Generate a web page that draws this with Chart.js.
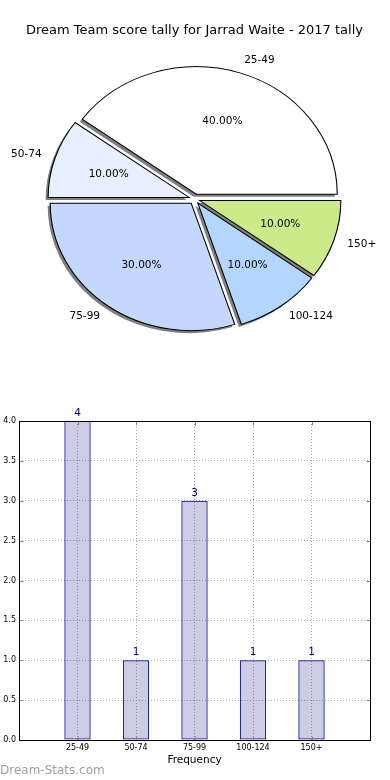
<!DOCTYPE html>
<html>
<head>
<meta charset="utf-8">
<script src="https://cdn.jsdelivr.net/npm/chart.js@4"></script>
<style>
  body { margin: 0; background: #fff; width: 390px; height: 780px; position: relative; overflow: hidden; font-family: "DejaVu Sans", sans-serif; }
  #title { position: absolute; left: 0; top: 22px; width: 389px; text-align: center; font-size: 13px; line-height: 15px; color: #000; }
  #pie { position: absolute; left: 0; top: 0; }
  #bars { position: absolute; left: 0; top: 400px; }
  #mark { position: absolute; left: 0; top: 763px; font-size: 12px; line-height: 14px; color: #a0a0a0; }
</style>
</head>
<body>
<canvas id="pie" width="390" height="398"></canvas>
<canvas id="bars" width="390" height="380"></canvas>
<div id="title">Dream Team score tally for Jarrad Waite - 2017 tally</div>
<div id="mark">Dream-Stats.com</div>
<script>
const categories = ['25-49', '50-74', '75-99', '100-124', '150+'];
const counts = [4, 1, 3, 1, 1];
const sliceColors = ['#ffffff', '#e8f0ff', '#c4d8ff', '#b3d6ff', '#ccea8a'];
const yTicks = [0, 0.5, 1, 1.5, 2, 2.5, 3, 3.5, 4];

const FONT = '"DejaVu Sans"';
const SX = 141 / 127.5;   // pie is drawn as an ellipse, like the original
const EXPLODE = 5.1;

function pieCenter(chart) {
    const a = chart.chartArea;
    return [(a.left + a.right) / 2, (a.top + a.bottom) / 2];
}

// explode, shadow, ellipse stretch and labels for the pie
const pieLook = {
    id: 'pieLook',
    afterDatasetsUpdate(chart) {
        const [cx, cy] = pieCenter(chart);
        chart.getDatasetMeta(0).data.forEach(arc => {
            const mid = (arc.startAngle + arc.endAngle) / 2;
            arc.x = cx + Math.cos(mid) * EXPLODE;
            arc.y = cy + Math.sin(mid) * EXPLODE;
        });
    },
    beforeDatasetsDraw(chart) {
        const ctx = chart.ctx;
        const [cx, cy] = pieCenter(chart);
        ctx.save();
        ctx.translate(cx, cy);
        ctx.scale(SX, 1);
        ctx.translate(-cx, -cy);

        ctx.save();
        ctx.translate(-2.5 / SX, 2.5);
        ctx.fillStyle = 'rgba(0,0,0,0.5)';
        chart.getDatasetMeta(0).data.forEach(arc => {
            ctx.beginPath();
            ctx.moveTo(arc.x, arc.y);
            ctx.arc(arc.x, arc.y, arc.outerRadius, arc.startAngle, arc.endAngle);
            ctx.closePath();
            ctx.fill();
        });
        ctx.restore();
    },
    afterDatasetsDraw(chart) {
        const ctx = chart.ctx;
        ctx.restore();

        const [cx, cy] = pieCenter(chart);
        const values = chart.data.datasets[0].data;
        const total = values.reduce((s, v) => s + v, 0);
        ctx.save();
        ctx.font = '10.5px ' + FONT;
        ctx.fillStyle = '#000';
        ctx.textBaseline = 'middle';
        chart.getDatasetMeta(0).data.forEach((arc, i) => {
            const mid = (arc.startAngle + arc.endAngle) / 2;
            const r = arc.outerRadius;
            const px = cx + (arc.x - cx) * SX;
            const py = arc.y;
            const lx = px + Math.cos(mid) * r * 1.1 * SX;
            const ly = py + Math.sin(mid) * r * 1.1;
            ctx.textAlign = lx > cx ? 'left' : 'right';
            ctx.fillText(chart.data.labels[i], lx, ly);
            ctx.textAlign = 'center';
            ctx.fillText((values[i] / total * 100).toFixed(2) + '%',
                px + Math.cos(mid) * r * 0.6 * SX, py + Math.sin(mid) * r * 0.6);
        });
        ctx.restore();
    }
};

new Chart(document.getElementById('pie'), {
    type: 'pie',
    data: {
        labels: categories.slice().reverse(),
        datasets: [{
            data: counts.slice().reverse(),
            backgroundColor: sliceColors.slice().reverse(),
            borderColor: '#000',
            borderWidth: 1,
            borderJoinStyle: 'miter',
            clip: false
        }]
    },
    options: {
        responsive: false,
        animation: false,
        events: [],
        rotation: 90,
        radius: 127.5,
        layout: { padding: { right: 1 } },
        plugins: { legend: { display: false }, tooltip: { enabled: false } }
    },
    plugins: [pieLook]
});

// frame, inner ticks and value labels for the bar chart
const barLook = {
    id: 'barLook',
    afterDatasetsDraw(chart) {
        const ctx = chart.ctx;
        const a = chart.chartArea;
        const xs = chart.scales.x, ys = chart.scales.y;
        const l = Math.round(a.left) + 0.5, r = Math.round(a.right) + 0.5;
        const t = Math.round(a.top) + 0.5, b = Math.round(a.bottom) + 0.5;
        ctx.save();
        ctx.strokeStyle = '#888';
        ctx.lineWidth = 1;
        ctx.beginPath();
        xs.ticks.forEach(tk => {
            const x = Math.round(xs.getPixelForValue(tk.value)) + 0.5;
            ctx.moveTo(x, b); ctx.lineTo(x, b - 4);
            ctx.moveTo(x, t); ctx.lineTo(x, t + 4);
        });
        ys.ticks.forEach(tk => {
            const y = Math.round(ys.getPixelForValue(tk.value)) + 0.5;
            ctx.moveTo(l, y); ctx.lineTo(l + 4, y);
            ctx.moveTo(r, y); ctx.lineTo(r - 4, y);
        });
        ctx.stroke();

        ctx.strokeStyle = '#000';
        ctx.strokeRect(l, t, r - l, b - t);

        ctx.fillStyle = '#000080';
        ctx.font = '10.5px ' + FONT;
        ctx.textAlign = 'center';
        ctx.textBaseline = 'alphabetic';
        chart.getDatasetMeta(0).data.forEach((bar, i) => {
            ctx.fillText(String(counts[i]), bar.x, bar.y - 5);
        });
        ctx.restore();
    }
};

const tickFont = { family: FONT, size: 8 };

new Chart(document.getElementById('bars'), {
    type: 'bar',
    data: {
        datasets: [{
            data: categories.map((c, i) => ({ x: i, y: counts[i] })),
            backgroundColor: 'rgba(0,0,128,0.2)',
            borderColor: '#000080',
            borderWidth: 1,
            borderSkipped: false,
            barPercentage: 0.45,
            categoryPercentage: 1
        }]
    },
    options: {
        responsive: false,
        animation: false,
        events: [],
        layout: { padding: { top: 21, right: 20, bottom: 13, left: 0 } },
        plugins: { legend: { display: false }, tooltip: { enabled: false } },
        scales: {
            x: {
                type: 'linear',
                min: -1,
                max: 5,
                offset: false,
                afterBuildTicks: s => { s.ticks = categories.map((c, i) => ({ value: i })); },
                afterFit: s => { s.height = 27; },
                ticks: { callback: v => categories[v], font: tickFont, color: '#000', padding: 3, autoSkip: false, maxRotation: 0 },
                grid: { color: '#aaa', drawTicks: false, offset: false },
                border: { display: false, dash: [1, 2] },
                title: { display: true, text: 'Frequency', font: { family: FONT, size: 10.5 }, color: '#000', padding: 0 }
            },
            y: {
                min: 0,
                max: 4,
                afterBuildTicks: s => { s.ticks = yTicks.map(v => ({ value: v })); },
                afterFit: s => { s.width = 19; },
                ticks: { callback: v => v.toFixed(1), font: tickFont, color: '#000', padding: 3, autoSkip: false },
                grid: { color: '#aaa', drawTicks: false },
                border: { display: false, dash: [1, 2] }
            }
        }
    },
    plugins: [barLook]
});
</script>
</body>
</html>
